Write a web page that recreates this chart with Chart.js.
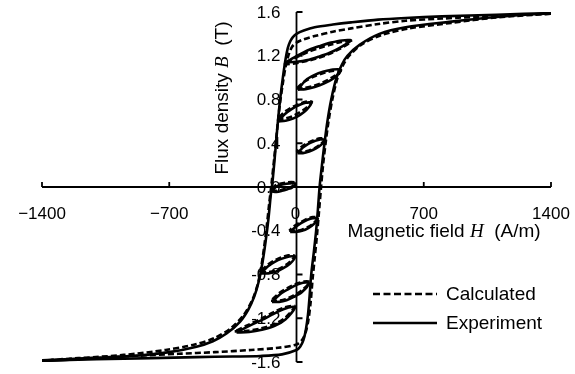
<!DOCTYPE html>
<html>
<head>
<meta charset="utf-8">
<script src="https://cdn.jsdelivr.net/npm/chart.js@4/dist/chart.umd.min.js"></script>
<style>
  body { margin: 0; background: #fff; }
  #wrap { width: 575px; height: 374px; }
</style>
</head>
<body>
<div id="wrap"><canvas id="loopChart"></canvas></div>
<script>
// axis ticks
const xTicks = [-1400, -700, 0, 700, 1400];
const xTickLabels = ["\u22121400", "\u2212700", "0", "700", "1400"];
const yTicks = [1.6, 1.2, 0.8, 0.4, 0, -0.4, -0.8, -1.2, -1.6];
const yTickLabels = ["1.6", "1.2", "0.8", "0.4", "0.0", "-0.4", "-0.8", "-1.2", "-1.6"];

// measured major loop, [H (A/m), B (T)]
const expDown = [[1400, 1.59], [1100, 1.575], [800, 1.56], [600, 1.545], [450, 1.53], [300, 1.505], [200, 1.485], [100, 1.46], [40, 1.43], [0, 1.4], [-20, 1.37], [-35, 1.33], [-48, 1.27], [-60, 1.17], [-75, 1.0], [-90, 0.8], [-105, 0.55], [-118, 0.3], [-132, 0.05], [-140, -0.05], [-155, -0.3], [-170, -0.5], [-188, -0.7], [-207, -0.86], [-232, -1.0], [-265, -1.12], [-310, -1.23], [-385, -1.34], [-460, -1.41], [-550, -1.46], [-700, -1.51], [-900, -1.545], [-1150, -1.57], [-1400, -1.59]];
const expUp = [[-1400, -1.59], [-1100, -1.575], [-800, -1.565], [-550, -1.555], [-350, -1.55], [-200, -1.545], [-80, -1.53], [0, -1.49], [20, -1.46], [38, -1.4], [52, -1.3], [63, -1.17], [72, -1.0], [81, -0.8], [95, -0.6], [108, -0.4], [118, -0.2], [127, 0.0], [140, 0.2], [154, 0.4], [170, 0.6], [191, 0.8], [220, 1.0], [250, 1.12], [280, 1.2], [347, 1.3], [456, 1.4], [600, 1.46], [840, 1.51], [1100, 1.555], [1400, 1.59]];

// calculated major loop
const calcDown = [[1400, 1.585], [1100, 1.565], [800, 1.54], [600, 1.52], [450, 1.49], [300, 1.45], [200, 1.42], [100, 1.38], [40, 1.35], [0, 1.32], [-25, 1.28], [-45, 1.2], [-60, 1.1], [-75, 0.95], [-92, 0.75], [-108, 0.5], [-122, 0.27], [-138, 0.02], [-150, -0.15], [-163, -0.35], [-178, -0.55], [-196, -0.75], [-215, -0.9], [-245, -1.04], [-290, -1.17], [-360, -1.29], [-450, -1.38], [-560, -1.44], [-720, -1.49], [-950, -1.535], [-1200, -1.565], [-1400, -1.585]];
const calcUp = [[-1400, -1.585], [-1150, -1.565], [-900, -1.545], [-650, -1.525], [-450, -1.51], [-250, -1.49], [-100, -1.47], [0, -1.44], [30, -1.4], [50, -1.33], [65, -1.22], [78, -1.05], [88, -0.85], [100, -0.65], [112, -0.45], [124, -0.22], [135, 0.0], [146, 0.2], [160, 0.4], [176, 0.6], [197, 0.8], [226, 1.0], [258, 1.12], [290, 1.2], [355, 1.3], [470, 1.39], [620, 1.45], [850, 1.5], [1100, 1.55], [1400, 1.585]];

// measured minor loops
const expLoop1 = [[-60, 1.14], [0, 1.145], [60, 1.16], [120, 1.19], [180, 1.225], [240, 1.275], [300, 1.34], [250, 1.34], [190, 1.32], [130, 1.29], [70, 1.255], [10, 1.205], [-60, 1.14]];
const expLoop2 = [[8, 0.89], [50, 0.895], [100, 0.915], [150, 0.945], [200, 0.99], [245, 1.07], [200, 1.075], [150, 1.055], [100, 1.025], [50, 0.975], [8, 0.89]];
const expLoop3 = [[-100, 0.6], [-60, 0.605], [-20, 0.625], [20, 0.66], [55, 0.705], [82, 0.77], [50, 0.77], [15, 0.75], [-25, 0.715], [-65, 0.665], [-100, 0.6]];
const expLoop4 = [[5, 0.31], [35, 0.31], [70, 0.325], [105, 0.35], [135, 0.385], [154, 0.43], [130, 0.435], [100, 0.42], [65, 0.395], [35, 0.36], [5, 0.31]];
const expLoop5 = [[-135, -0.04], [-110, -0.045], [-80, -0.035], [-50, -0.02], [-25, -0.005], [-5, 0.03], [-25, 0.035], [-55, 0.03], [-85, 0.02], [-110, 0.005], [-135, -0.04]];
const expLoop6 = [[-35, -0.41], [-5, -0.41], [30, -0.4], [65, -0.375], [95, -0.34], [115, -0.29], [90, -0.285], [60, -0.3], [25, -0.33], [-5, -0.365], [-35, -0.41]];
const expLoop7 = [[-195, -0.79], [-155, -0.79], [-115, -0.775], [-75, -0.745], [-35, -0.7], [-8, -0.64], [-40, -0.635], [-80, -0.655], [-120, -0.685], [-160, -0.73], [-195, -0.79]];
const expLoop8 = [[-135, -1.05], [-95, -1.05], [-55, -1.035], [-15, -1.005], [30, -0.96], [68, -0.88], [35, -0.875], [0, -0.895], [-40, -0.93], [-90, -0.98], [-135, -1.05]];
const expLoop9 = [[-330, -1.33], [-260, -1.325], [-190, -1.305], [-120, -1.27], [-60, -1.21], [-8, -1.1], [-60, -1.11], [-120, -1.155], [-190, -1.215], [-260, -1.27], [-330, -1.33]];

// calculated minor loops
const calcLoop1 = [[-70, 1.12], [-10, 1.13], [50, 1.15], [110, 1.175], [170, 1.21], [235, 1.26], [300, 1.33], [245, 1.325], [185, 1.3], [125, 1.27], [65, 1.235], [0, 1.185], [-70, 1.12]];
const calcLoop2 = [[0, 0.9], [45, 0.905], [95, 0.925], [145, 0.955], [195, 1.0], [240, 1.06], [195, 1.06], [145, 1.04], [95, 1.01], [45, 0.965], [0, 0.9]];
const calcLoop3 = [[-105, 0.62], [-65, 0.625], [-25, 0.645], [15, 0.68], [55, 0.725], [85, 0.78], [50, 0.78], [10, 0.755], [-30, 0.725], [-70, 0.68], [-105, 0.62]];
const calcLoop4 = [[0, 0.32], [35, 0.32], [70, 0.335], [105, 0.36], [135, 0.395], [158, 0.44], [130, 0.445], [100, 0.43], [65, 0.405], [30, 0.37], [0, 0.32]];
const calcLoop5 = [[-140, -0.03], [-110, -0.035], [-80, -0.025], [-50, -0.01], [-25, 0.005], [-10, 0.04], [-30, 0.045], [-60, 0.04], [-90, 0.03], [-115, 0.015], [-140, -0.03]];
const calcLoop6 = [[-40, -0.4], [-5, -0.4], [30, -0.39], [65, -0.365], [95, -0.33], [118, -0.28], [90, -0.275], [60, -0.29], [25, -0.32], [-10, -0.355], [-40, -0.4]];
const calcLoop7 = [[-200, -0.78], [-160, -0.78], [-120, -0.765], [-80, -0.735], [-40, -0.69], [-10, -0.63], [-45, -0.625], [-85, -0.645], [-125, -0.675], [-165, -0.72], [-200, -0.78]];
const calcLoop8 = [[-140, -1.04], [-100, -1.04], [-60, -1.025], [-20, -0.995], [25, -0.95], [72, -0.87], [40, -0.865], [0, -0.885], [-45, -0.92], [-95, -0.97], [-140, -1.04]];
const calcLoop9 = [[-340, -1.32], [-270, -1.315], [-200, -1.295], [-130, -1.26], [-65, -1.2], [-10, -1.09], [-65, -1.1], [-125, -1.145], [-195, -1.205], [-265, -1.26], [-340, -1.32]];

const expCurves = [expDown, expUp, expLoop1, expLoop2, expLoop3, expLoop4, expLoop5, expLoop6, expLoop7, expLoop8, expLoop9];
const calcCurves = [calcDown, calcUp, calcLoop1, calcLoop2, calcLoop3, calcLoop4, calcLoop5, calcLoop6, calcLoop7, calcLoop8, calcLoop9];

const SANS = "'Liberation Sans', Arial, sans-serif";
const SERIF = "'Liberation Serif', 'Times New Roman', serif";

function toPoints(arr) {
  return arr.map(p => ({ x: p[0], y: p[1] }));
}

const datasets = [];
calcCurves.forEach(c => datasets.push({
  data: toPoints(c),
  borderColor: "#000",
  borderWidth: 2.6,
  borderDash: [6, 3],
  tension: 0.3
}));
expCurves.forEach(c => datasets.push({
  data: toPoints(c),
  borderColor: "#000",
  borderWidth: 2.6,
  tension: 0.3
}));

// draws text pieces one after another (mixed fonts)
function drawPieces(ctx, pieces, x, y) {
  let w = 0;
  pieces.forEach(p => { ctx.font = p.font; w += ctx.measureText(p.text).width; });
  let cx = x - w / 2;
  pieces.forEach(p => {
    ctx.font = p.font;
    ctx.fillText(p.text, cx, y);
    cx += ctx.measureText(p.text).width;
  });
}

const crossAxes = {
  id: "crossAxes",
  beforeDatasetsDraw(chart) {
    const ctx = chart.ctx;
    const xs = chart.scales.x, ys = chart.scales.y;
    const x0 = xs.getPixelForValue(0), y0 = ys.getPixelForValue(0);
    ctx.save();
    ctx.strokeStyle = "#000";
    ctx.fillStyle = "#000";
    ctx.lineWidth = 1.8;
    ctx.beginPath();
    ctx.moveTo(xs.getPixelForValue(-1400), y0);
    ctx.lineTo(xs.getPixelForValue(1400), y0);
    ctx.moveTo(x0, ys.getPixelForValue(1.6));
    ctx.lineTo(x0, ys.getPixelForValue(-1.6));
    xTicks.forEach(v => {
      const px = xs.getPixelForValue(v);
      ctx.moveTo(px, y0);
      ctx.lineTo(px, y0 - 5);
    });
    yTicks.forEach(v => {
      const py = ys.getPixelForValue(v);
      ctx.moveTo(x0, py);
      ctx.lineTo(x0 + 6, py);
    });
    ctx.stroke();

    ctx.font = "17px " + SANS;
    ctx.textAlign = "center";
    ctx.textBaseline = "middle";
    xTicks.forEach((v, i) => {
      ctx.fillText(xTickLabels[i], xs.getPixelForValue(v) - (v === 0 ? 1 : 0), y0 + 27);
    });
    ctx.textAlign = "right";
    yTicks.forEach((v, i) => {
      ctx.fillText(yTickLabels[i], x0 - 16, ys.getPixelForValue(v) + 1);
    });
    ctx.restore();
  },
  afterDraw(chart) {
    const ctx = chart.ctx;
    ctx.save();
    ctx.fillStyle = "#000";
    ctx.textAlign = "left";
    ctx.textBaseline = "middle";

    // y title, rotated
    ctx.save();
    ctx.translate(223, 98);
    ctx.rotate(-Math.PI / 2);
    drawPieces(ctx, [
      { text: "Flux density ", font: "19px " + SANS },
      { text: "B", font: "italic 19px " + SERIF },
      { text: "  (T)", font: "19px " + SANS }
    ], 0, 0);
    ctx.restore();

    // x title
    drawPieces(ctx, [
      { text: "Magnetic field ", font: "19px " + SANS },
      { text: "H", font: "italic 19px " + SERIF },
      { text: "  (A/m)", font: "19px " + SANS }
    ], 444, 232);

    // legend
    ctx.strokeStyle = "#000";
    ctx.lineWidth = 2.4;
    ctx.setLineDash([7, 3.5]);
    ctx.beginPath();
    ctx.moveTo(373, 294);
    ctx.lineTo(437, 294);
    ctx.stroke();
    ctx.setLineDash([]);
    ctx.beginPath();
    ctx.moveTo(373, 323);
    ctx.lineTo(437, 323);
    ctx.stroke();
    ctx.font = "19px " + SANS;
    ctx.fillText("Calculated", 446, 295);
    ctx.fillText("Experiment", 446, 324);
    ctx.restore();
  }
};

new Chart(document.getElementById("loopChart"), {
  type: "scatter",
  data: { datasets: datasets },
  options: {
    responsive: true,
    maintainAspectRatio: false,
    animation: false,
    showLine: true,
    elements: { point: { radius: 0, hoverRadius: 0 } },
    layout: { padding: { left: 42, right: 24, top: 12, bottom: 12 } },
    plugins: { legend: { display: false }, tooltip: { enabled: false } },
    scales: {
      x: { type: "linear", min: -1400, max: 1400, display: false },
      y: { type: "linear", min: -1.6, max: 1.6, display: false }
    }
  },
  plugins: [crossAxes]
});
</script>
</body>
</html>
